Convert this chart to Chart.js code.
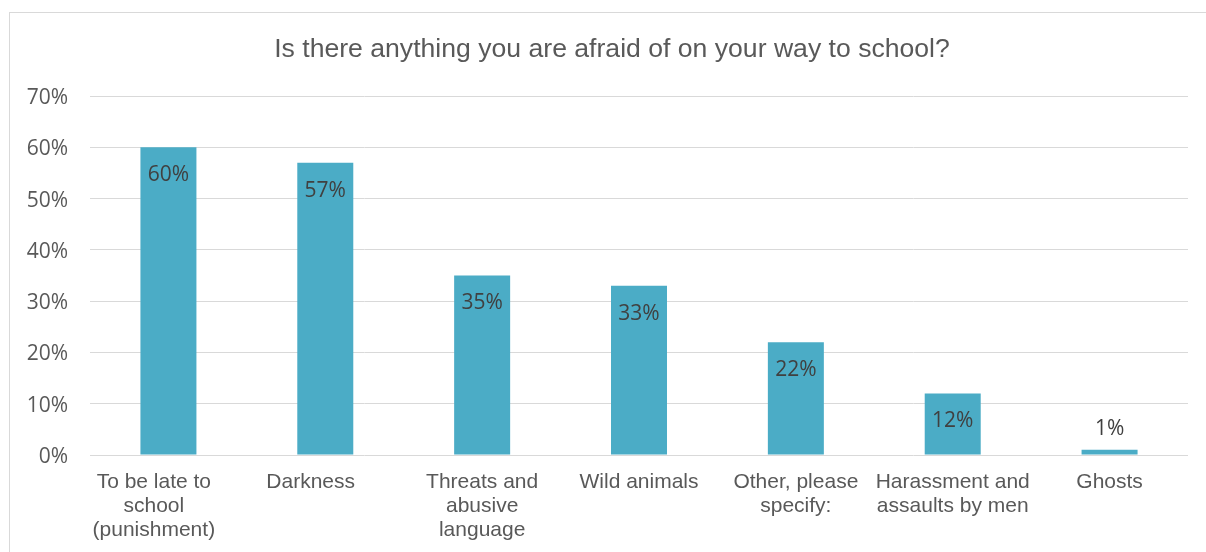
<!DOCTYPE html>
<html>
<head>
<meta charset="utf-8">
<script src="https://cdn.jsdelivr.net/npm/chart.js@4/dist/chart.umd.min.js"></script>
<style>
  html, body { margin: 0; padding: 0; background: #fff; overflow: hidden; }
  #frame {
    position: absolute; left: 9px; top: 12px; width: 1220px; height: 560px;
    border: 1px solid #d9d9d9; box-sizing: border-box;
  }
  #wrap { position: absolute; left: 0; top: 0; width: 1206px; height: 552px; }
</style>
</head>
<body>
<div id="frame"></div>
<div id="wrap"><canvas id="fearChart"></canvas></div>
<script>
const chartTitle = 'Is there anything you are afraid of on your way to school?';
// trailing no-break spaces nudge the first two labels a little to the left
const pad = '\u00a0'.repeat(5);
const categories = [
    ['To be late to' + pad, 'school' + pad, '(punishment)' + pad],
    'Darkness' + pad,
    ['Threats and', 'abusive', 'language'],
    'Wild animals',
    ['Other, please', 'specify:'],
    ['Harassment and', 'assaults by men'],
    'Ghosts'
];
const percentages = [60, 57, 35, 33, 22, 12, 1];
const yTicks = [0, 10, 20, 30, 40, 50, 60, 70];

// title centred on the framed box rather than the plot
const frameTitle = {
    id: 'frameTitle',
    afterDraw(chart) {
        const ctx = chart.ctx;
        ctx.save();
        ctx.font = '26.6px "Liberation Sans", Arial';
        ctx.fillStyle = '#595959';
        ctx.textAlign = 'center';
        ctx.textBaseline = 'alphabetic';
        ctx.fillText(chartTitle, 612, 57);
        ctx.restore();
    }
};

// value labels: inside the top of the bar, above it when the bar is too short
const barLabels = {
    id: 'barLabels',
    afterDatasetsDraw(chart) {
        const ctx = chart.ctx;
        const meta = chart.getDatasetMeta(0);
        ctx.save();
        ctx.font = '21px "Open Sans"';
        ctx.fillStyle = '#404040';
        ctx.textAlign = 'center';
        ctx.textBaseline = 'middle';
        meta.data.forEach((bar, i) => {
            const h = bar.base - bar.y;
            const y = h > 45 ? bar.y + 28 : bar.y - 21;
            ctx.fillText(percentages[i] + '%', bar.x, y);
        });
        ctx.restore();
    }
};

new Chart(document.getElementById('fearChart'), {
    type: 'bar',
    data: {
        labels: categories,
        datasets: [{
            label: 'Share of pupils',
            data: percentages,
            backgroundColor: '#4bacc6',
            categoryPercentage: 1,
            barPercentage: 0.357
        }]
    },
    plugins: [barLabels, frameTitle],
    options: {
        responsive: true,
        maintainAspectRatio: false,
        animation: false,
        layout: { padding: { left: 0, right: 18, top: 96, bottom: 0 } },
        plugins: {
            legend: { display: false },
            tooltip: { enabled: false },
            title: { display: false }
        },
        scales: {
            x: {
                grid: { display: false },
                border: { display: false },
                ticks: {
                    color: '#595959',
                    font: { family: '"Liberation Sans", Arial', size: 21, lineHeight: 24 / 21 },
                    maxRotation: 0,
                    autoSkip: false,
                    padding: 7
                },
                afterFit(scale) { scale.height = 97; }
            },
            y: {
                min: 0,
                max: 70,
                afterBuildTicks(scale) { scale.ticks = yTicks.map(v => ({ value: v })); },
                grid: { color: '#d9d9d9', lineWidth: 1, drawTicks: false },
                border: { display: false },
                ticks: {
                    color: '#595959',
                    font: { family: '"Open Sans"', size: 21 },
                    padding: 22,
                    labelOffset: 2,
                    callback: v => v + '%'
                },
                afterFit(scale) { scale.width = 90; scale.paddingTop = 0; scale.paddingBottom = 0; }
            }
        }
    }
});
</script>
</body>
</html>
